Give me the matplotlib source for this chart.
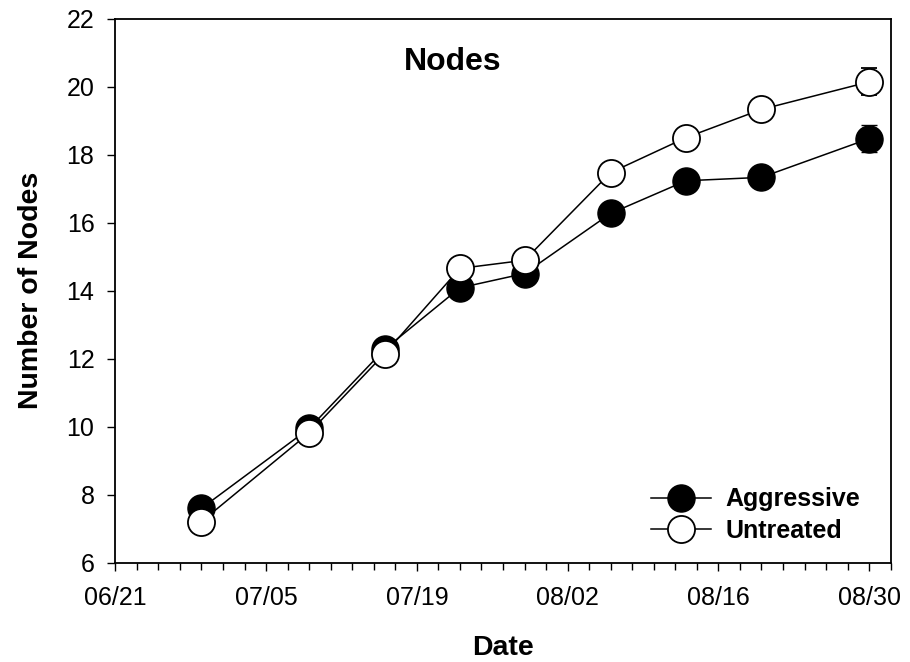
import numpy as np
import matplotlib
matplotlib.use("Agg")
import matplotlib.pyplot as plt
import matplotlib.dates as mdates
from matplotlib.lines import Line2D

plt.rcParams['font.family'] = ['Liberation Sans', 'DejaVu Sans']

# Sampling dates and mean node counts per treatment
dates = np.array(['2012-06-29', '2012-07-09', '2012-07-16', '2012-07-23', '2012-07-29',
                  '2012-08-06', '2012-08-13', '2012-08-20', '2012-08-30'], dtype='datetime64[D]')
aggressive = [7.60, 9.95, 12.28, 14.09, 14.51, 16.28, 17.24, 17.34, 18.48]
aggressive_se = [0.15, 0.15, 0.15, 0.20, 0.20, 0.20, 0.20, 0.20, 0.39]
untreated = [7.21, 9.82, 12.15, 14.66, 14.90, 17.48, 18.51, 19.34, 20.15]
untreated_se = [0.15, 0.15, 0.15, 0.20, 0.20, 0.20, 0.20, 0.20, 0.40]

tick_dates = np.array(['2012-06-21', '2012-07-05', '2012-07-19', '2012-08-02',
                       '2012-08-16', '2012-08-30'], dtype='datetime64[D]')
tick_labels = ['06/21', '07/05', '07/19', '08/02', '08/16', '08/30']
y_ticks = [6, 8, 10, 12, 14, 16, 18, 20, 22]

fig = plt.figure(figsize=(9.10, 6.62), dpi=100)
ax = fig.add_axes([0.1267, 0.150, 0.8521, 0.8213])

x = dates.astype(object)
ms = 19.5
ax.errorbar(x, aggressive, yerr=aggressive_se, fmt='-o', color='black', mfc='black',
            mec='black', ms=ms, lw=1.1, elinewidth=1.0, capsize=6, capthick=1.0,
            label='Aggressive', zorder=3)
ax.errorbar(x, untreated, yerr=untreated_se, fmt='-o', color='black', mfc='white',
            mec='black', mew=1.3, ms=ms, lw=1.1, elinewidth=1.0, capsize=6, capthick=1.0,
            label='Untreated', zorder=4)

ax.set_xlim(np.datetime64('2012-06-21').astype(object), np.datetime64('2012-09-01').astype(object))
ax.set_ylim(6, 22)
ax.set_xticks(tick_dates.astype(object))
ax.set_xticklabels(tick_labels)
ax.xaxis.set_minor_locator(mdates.DayLocator(interval=2))
ax.set_yticks(y_ticks)

ax.tick_params(axis='both', which='major', direction='out', length=6, width=1.0,
               labelsize=18)
ax.tick_params(axis='x', which='major', pad=11)
ax.tick_params(axis='y', which='major', pad=9)
ax.tick_params(axis='x', which='minor', direction='out', length=5, width=1.0)
for s in ax.spines.values():
    s.set_linewidth(1.3)

ax.set_xlabel('Date', fontsize=20.5, fontweight='bold', labelpad=18)
ax.set_ylabel('Number of Nodes', fontsize=20.5, fontweight='bold', labelpad=16)
ax.text(0.4973, 0.906, 'Nodes', transform=fig.transFigure, fontsize=23,
        fontweight='bold', ha='center', va='center')

handles = [Line2D([], [], color='black', lw=1.1, marker='o', ms=ms, mfc='black', mec='black'),
           Line2D([], [], color='black', lw=1.1, marker='o', ms=ms, mfc='white', mec='black', mew=1.3)]
leg = ax.legend(handles, ['Aggressive', 'Untreated'], loc='lower right',
                bbox_to_anchor=(0.99, -0.005), frameon=False, handlelength=2.4,
                handletextpad=0.6, labelspacing=0.3, prop={'size': 18, 'weight': 'bold'})

fig.savefig('out.png', dpi=100, facecolor='white')
